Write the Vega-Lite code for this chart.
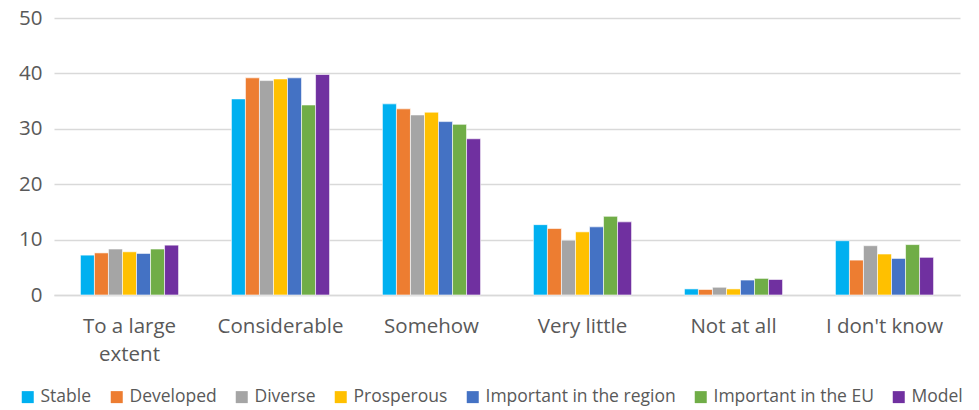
{
  "$schema": "https://vega.github.io/schema/vega-lite/v6.json",
  "width": 906,
  "height": 277,
  "autosize": {"type": "none"},
  "padding": {"left": 54, "top": 18, "right": 19, "bottom": 115},
  "background": "white",
  "config": {
    "view": {"stroke": null},
    "font": "Open Sans",
    "axis": {"labelFont": "Open Sans", "labelColor": "#595959"},
    "legend": {"labelFont": "Open Sans", "labelColor": "#595959"}
  },
  "data": {
    "values": [
      {"category": "To a large extent", "series": "Stable", "value": 7.2},
      {"category": "To a large extent", "series": "Developed", "value": 7.6},
      {"category": "To a large extent", "series": "Diverse", "value": 8.3},
      {"category": "To a large extent", "series": "Prosperous", "value": 7.8},
      {"category": "To a large extent", "series": "Important in the region", "value": 7.5},
      {"category": "To a large extent", "series": "Important in the EU", "value": 8.3},
      {"category": "To a large extent", "series": "Model", "value": 9.0},
      {"category": "Considerable", "series": "Stable", "value": 35.4},
      {"category": "Considerable", "series": "Developed", "value": 39.2},
      {"category": "Considerable", "series": "Diverse", "value": 38.7},
      {"category": "Considerable", "series": "Prosperous", "value": 39.0},
      {"category": "Considerable", "series": "Important in the region", "value": 39.2},
      {"category": "Considerable", "series": "Important in the EU", "value": 34.3},
      {"category": "Considerable", "series": "Model", "value": 39.8},
      {"category": "Somehow", "series": "Stable", "value": 34.5},
      {"category": "Somehow", "series": "Developed", "value": 33.6},
      {"category": "Somehow", "series": "Diverse", "value": 32.5},
      {"category": "Somehow", "series": "Prosperous", "value": 33.0},
      {"category": "Somehow", "series": "Important in the region", "value": 31.3},
      {"category": "Somehow", "series": "Important in the EU", "value": 30.8},
      {"category": "Somehow", "series": "Model", "value": 28.2},
      {"category": "Very little", "series": "Stable", "value": 12.7},
      {"category": "Very little", "series": "Developed", "value": 12.0},
      {"category": "Very little", "series": "Diverse", "value": 9.9},
      {"category": "Very little", "series": "Prosperous", "value": 11.4},
      {"category": "Very little", "series": "Important in the region", "value": 12.3},
      {"category": "Very little", "series": "Important in the EU", "value": 14.2},
      {"category": "Very little", "series": "Model", "value": 13.2},
      {"category": "Not at all", "series": "Stable", "value": 1.1},
      {"category": "Not at all", "series": "Developed", "value": 1.0},
      {"category": "Not at all", "series": "Diverse", "value": 1.4},
      {"category": "Not at all", "series": "Prosperous", "value": 1.1},
      {"category": "Not at all", "series": "Important in the region", "value": 2.7},
      {"category": "Not at all", "series": "Important in the EU", "value": 3.0},
      {"category": "Not at all", "series": "Model", "value": 2.8},
      {"category": "I don't know", "series": "Stable", "value": 9.8},
      {"category": "I don't know", "series": "Developed", "value": 6.3},
      {"category": "I don't know", "series": "Diverse", "value": 8.9},
      {"category": "I don't know", "series": "Prosperous", "value": 7.4},
      {"category": "I don't know", "series": "Important in the region", "value": 6.6},
      {"category": "I don't know", "series": "Important in the EU", "value": 9.1},
      {"category": "I don't know", "series": "Model", "value": 6.8}
    ]
  },
  "mark": {"type": "bar", "stroke": "white", "strokeWidth": 0.6},
  "encoding": {
    "x": {
      "field": "category",
      "type": "nominal",
      "sort": ["To a large extent", "Considerable", "Somehow", "Very little", "Not at all", "I don't know"],
      "scale": {"paddingInner": 0.35, "paddingOuter": 0.175},
      "axis": {
        "title": null,
        "labelAngle": 0,
        "labelFontSize": 20.5,
        "labelPadding": 31,
        "labelLineHeight": 28,
        "labelBaseline": "middle",
        "labelLimit": 0,
        "labelExpr": "datum.label == 'To a large extent' ? ['To a large', 'extent'] : datum.label",
        "ticks": false,
        "domain": true,
        "domainColor": "#D9D9D9",
        "domainWidth": 1.3
      }
    },
    "xOffset": {
      "field": "series",
      "type": "nominal",
      "sort": ["Stable", "Developed", "Diverse", "Prosperous", "Important in the region", "Important in the EU", "Model"],
      "scale": {"paddingInner": 0, "paddingOuter": 0}
    },
    "y": {
      "field": "value",
      "type": "quantitative",
      "scale": {"domain": [0, 50], "nice": false},
      "axis": {
        "title": null,
        "values": [0, 10, 20, 30, 40, 50],
        "labelFontSize": 20.5,
        "labelPadding": 12,
        "ticks": false,
        "domain": false,
        "gridColor": "#D9D9D9",
        "gridWidth": 1.3
      }
    },
    "color": {
      "field": "series",
      "type": "nominal",
      "sort": ["Stable", "Developed", "Diverse", "Prosperous", "Important in the region", "Important in the EU", "Model"],
      "scale": {
        "domain": ["Stable", "Developed", "Diverse", "Prosperous", "Important in the region", "Important in the EU", "Model"],
        "range": ["#00B0F0", "#ED7D31", "#A5A5A5", "#FFC000", "#4472C4", "#70AD47", "#7030A0"]
      },
      "legend": {
        "title": null,
        "orient": "none",
        "legendX": -35,
        "legendY": 370,
        "direction": "horizontal",
        "columns": 7,
        "symbolType": "square",
        "symbolSize": 144,
        "symbolStrokeWidth": 0,
        "symbolOffset": 0,
        "labelFontSize": 17.5,
        "labelOffset": 4,
        "labelLimit": 0,
        "columnPadding": 16
      }
    }
  }
}
